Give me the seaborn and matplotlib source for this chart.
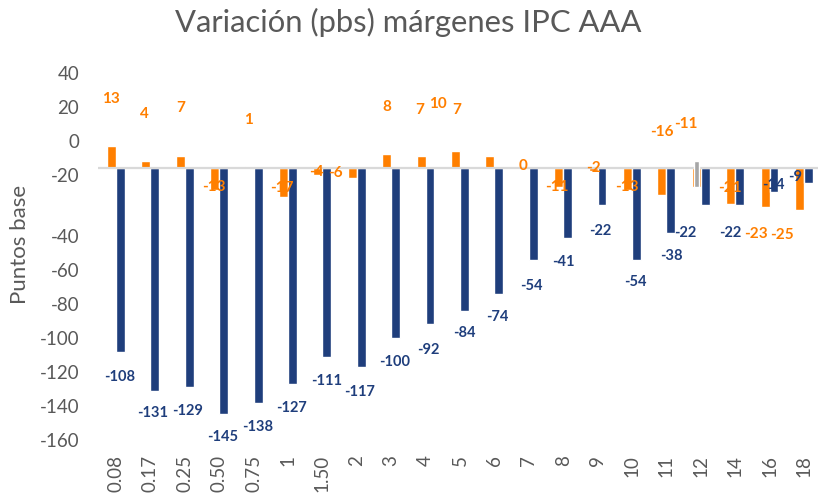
import matplotlib
matplotlib.use("Agg")
import matplotlib.pyplot as plt
import numpy as np
import pandas as pd
import seaborn as sns

# Plazos (años) y variación de márgenes en puntos básicos
plazos = ["0.08", "0.17", "0.25", "0.50", "0.75", "1", "1.50", "2", "3", "4", "5",
          "6", "7", "8", "9", "10", "11", "12", "14", "16", "18"]
var_naranja = [13, 4, 7, -13, 1, -17, -4, -6, 8, 7, 10, 7, 0, -11, -2, -13, -16,
               -11, -21, -23, -25]
var_azul = [-108, -131, -129, -145, -138, -127, -111, -117, -100, -92, -84, -74,
            -54, -41, -22, -54, -38, -22, -22, -14, -9]

# Marca gris sobre el plazo 12
gris_plazo = "12"
gris_min = -11
gris_max = 4

# Eje vertical
eje_valores = [56, 36, 16, -4, -40, -60, -80, -100, -120, -140, -160]
eje_etiquetas = ["40", "20", "0", "-20", "-40", "-60", "-80", "-100", "-120",
                 "-140", "-160"]

# Desplazamiento (px) de cada etiqueta respecto al extremo de su barra
naranja_dx = [-1, -2, 0, -1, -1, -2, -2, -17, 0, -1, -18, -33, -1, -2, 0, -1, 0,
              -10, -1, -9, -17]
naranja_dy = [47, 47, 48, 3, 46, 9, 3, 5, 47, 46, 47, 46, 2, 0, 3, 3, 63, 63, 16,
              -27, -25]
azul_dx = [-1, -2, -2, -1, 0, -1, 0, -2, -1, -2, 0, -1, -2, -4, -2, -1, 1, -20,
           -9, -1, -13]
azul_dy = [-25, -22, -24, -23, -24, -24, -24, -25, -24, -26, -22, -23, -26, -24,
           -26, -22, -23, -28, -28, 7, 6]

NARANJA = "#ff7f00"
AZUL = "#1f3e7c"
GRIS_TXT = "#595959"

sns.set_theme(style="white")
plt.rcParams["font.family"] = ["Lato", "DejaVu Sans"]

df = pd.DataFrame({
    "plazo": plazos * 2,
    "pbs": var_naranja + var_azul,
    "serie": ["naranja"] * len(plazos) + ["azul"] * len(plazos),
})

fig = plt.figure(figsize=(8.18, 4.95), dpi=100)
ax = fig.add_axes([98 / 818, 50 / 495, 720 / 818, 385 / 495])

sns.barplot(data=df, x="plazo", y="pbs", hue="serie", order=plazos,
            hue_order=["naranja", "azul"],
            palette={"naranja": NARANJA, "azul": AZUL},
            width=0.52, gap=0, dodge=True, legend=False, errorbar=None,
            saturation=1, ax=ax, zorder=1)

ax.set_xlim(-0.523, 20.41)
ax.set_ylim(-163, 63.5)

for s in ax.spines.values():
    s.set_visible(False)
ax.axhline(0, color="#d9d9d9", lw=1.6, zorder=2)

cont_n, cont_a = ax.containers[0], ax.containers[1]
x_n = [p.get_x() + p.get_width() / 2 for p in cont_n]
x_a = [p.get_x() + p.get_width() / 2 for p in cont_a]

# Marca gris
i_g = plazos.index(gris_plazo)
ax.bar(x_n[i_g], gris_max - gris_min, bottom=gris_min, width=0.15,
       color="#a6a6a6", zorder=2.5)

# Etiquetas de datos
for x, v, dx, dy in zip(x_n, var_naranja, naranja_dx, naranja_dy):
    ax.annotate(f"{v}", xy=(x, v), xytext=(dx, dy), textcoords="offset pixels",
                ha="center", va="center", fontsize=11, fontweight="bold",
                color=NARANJA, zorder=3)
for x, v, dx, dy in zip(x_a, var_azul, azul_dx, azul_dy):
    ax.annotate(f"{v}", xy=(x, v), xytext=(dx, dy), textcoords="offset pixels",
                ha="center", va="center", fontsize=10.5, fontweight="bold",
                color=AZUL, zorder=3.5)

ax.set_yticks(eje_valores)
ax.set_yticklabels(eje_etiquetas)
ax.tick_params(axis="y", length=0, pad=13.5, labelsize=13.5, labelcolor=GRIS_TXT)
ax.tick_params(axis="x", length=0, pad=7, labelsize=13.5, labelcolor=GRIS_TXT,
               labelrotation=90)
ax.set_xlabel("")
ax.set_ylabel("Puntos base", fontsize=16, color=GRIS_TXT)
ax.yaxis.set_label_coords(-0.095, 0.52)
ax.grid(False)

fig.text(408 / 818, 1 - 22 / 495, "Variación (pbs) márgenes IPC AAA",
         ha="center", va="center", fontsize=22.3, color=GRIS_TXT)

fig.savefig("out.png", dpi=100, facecolor="white")
